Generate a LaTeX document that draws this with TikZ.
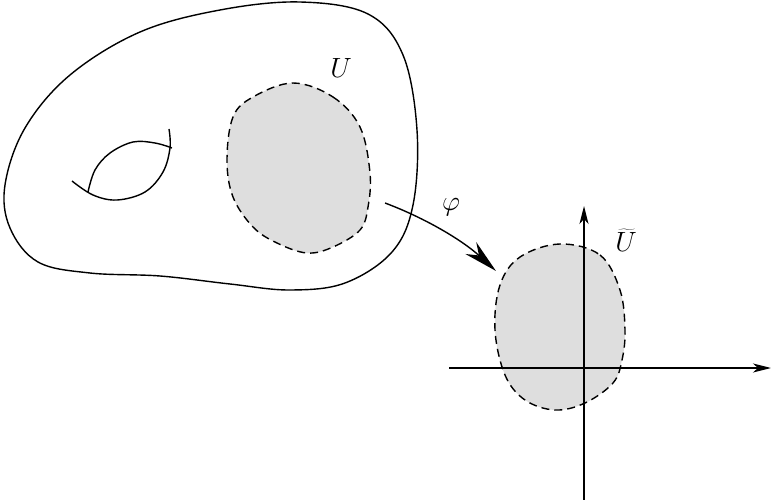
\documentclass[tikz,border=0pt]{standalone}
\usepackage{graphicx}
\usetikzlibrary{arrows.meta}
\definecolor{regionfill}{HTML}{DEDEDE}
\newcommand{\biglabel}[1]{\scalebox{1.12}{\Huge$#1$}}
\tikzset{
  curveline/.style={line width=1.4pt, line join=round},
  chartregion/.style={fill=regionfill, draw=black, line width=1.4pt, dash pattern=on 8pt off 5pt},
  axisline/.style={line width=1.4pt, -{Stealth[length=18pt,width=9pt,inset=5pt]}},
  maparrow/.style={line width=1.4pt, -{Stealth[length=34pt,width=16pt,inset=11pt]}},
  lbl/.style={inner sep=0pt}
}
\begin{document}
\begin{tikzpicture}[x=1pt,y=-1pt]
\useasboundingbox (0,0) rectangle (772,500);
% manifold outline
\draw[curveline] plot[smooth cycle, tension=0.6] coordinates {
 (300,2) (368,14) (403,55) (417,130) (413,205) (392,252) (345,283) (290,290)
 (230,284) (160,276) (90,273) (38,262) (10,228) (5,185) (25,128) (70,75)
 (140,32) (220,10)};
% hole
\draw[curveline] plot[smooth, tension=0.6] coordinates {
 (72,181) (93,195) (117,200) (145,192) (163,172) (170,148) (169,129)};
\draw[curveline] plot[smooth, tension=0.6] coordinates {
 (88,192) (95,170) (110,153) (133,142) (155,143) (172,148)};
% U region
\draw[chartregion] plot[smooth cycle, tension=0.6] coordinates {
 (293,83) (333,97) (360,127) (370,173) (368,207) (360,230) (333,247) (307,253)
 (277,243) (253,227) (233,197) (227,160) (233,117) (253,97)};
\node[lbl] (U) at (341,68) {\biglabel{U}};
% image region
\draw[chartregion] plot[smooth cycle, tension=0.6] coordinates {
 (560,244) (600,255) (620,290) (625,330) (622,360) (613,383) (585,403) (555,410)
 (525,400) (505,375) (495,330) (500,285) (520,257)};
\node[lbl] (Ut) at (626,240) {\biglabel{\widetilde{U}}};
% axes
\coordinate (xs) at (449,368);
\coordinate (xe) at (771,368);
\coordinate (ys) at (584,500);
\coordinate (ye) at (584,206);
\draw[axisline] (xs) -- (xe);
\draw[axisline] (ys) -- (ye);
% map arrow
\coordinate (ms) at (385,203);
\coordinate (me) at (496,271);
\draw[maparrow] (ms) .. controls (425,218) and (462,240) .. (me);
\node[lbl] (phi) at (451,207) {\biglabel{\varphi}};
\end{tikzpicture}
\end{document}
